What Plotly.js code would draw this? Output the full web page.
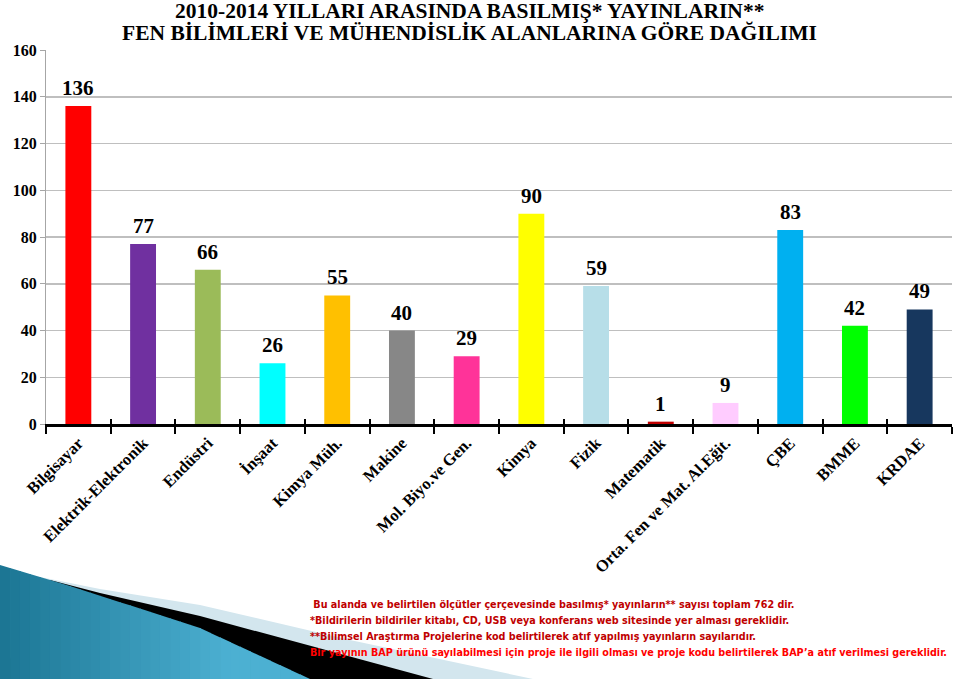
<!DOCTYPE html>
<html>
<head>
<meta charset="utf-8">
<script src="https://cdn.plot.ly/plotly-3.0.1.min.js"></script>
<style>html,body{margin:0;padding:0;background:#fff;}#chart{width:960px;height:679px;}</style>
</head>
<body>
<div id="chart"></div>
<script>
const categories = ["Bilgisayar","Elektrik-Elektronik","Endüstri","İnşaat","Kimya Müh.","Makine","Mol. Biyo.ve Gen.","Kimya","Fizik","Matematik","Orta. Fen ve Mat. Al.Eğit.","ÇBE","BMME","KRDAE"];
const values = [136,77,66,26,55,40,29,90,59,1,9,83,42,49];
const barColors = ["#FF0000","#7030A0","#9BBB59","#00FFFF","#FFC000","#878787","#FF3399","#FFFF00","#B7DEE8","#C00000","#FFCCFF","#00B0F0","#00FF00","#17375E"];
const yTicks = [0,20,40,60,80,100,120,140,160];
const titleLines = ["2010-2014 YILLARI ARASINDA BASILMIŞ* YAYINLARIN**","FEN BİLİMLERİ VE MÜHENDİSLİK ALANLARINA GÖRE DAĞILIMI"];
const notes = [" Bu alanda ve belirtilen ölçütler çerçevesinde basılmış* yayınların** sayısı toplam 762 dir.",
"*Bildirilerin bildiriler kitabı, CD, USB veya konferans web sitesinde yer alması gereklidir.",
"**Bilimsel Araştırma Projelerine kod belirtilerek atıf yapılmış yayınların sayılarıdır.",
"Bir yayının BAP ürünü sayılabilmesi için proje ile ilgili olması ve proje kodu belirtilerek BAP’a atıf verilmesi gereklidir."];
const noteColors = ["#C00000","#C00000","#C00000","#FF0000"];

const W = 960, H = 679, L = 46, R = 8, T = 50, B = 255;
const PW = W - L - R, PH = H - T - B;
const px = x => (x - L) / PW;
const py = y => (H - B - y) / PH;
const path = pts => 'M' + pts.map(p => px(p[0]).toFixed(4) + ',' + py(p[1]).toFixed(4)).join(' L') + ' Z';

const serif = "Liberation Serif";
const narrow = "DejaVu Sans Condensed, DejaVu Sans, sans-serif";

const traces = [
  {type:'bar', x:categories, y:values, marker:{color:barColors}, hoverinfo:'x+y', showlegend:false},
  {type:'bar', x:categories, y:values.map(()=>null), xaxis:'x2', hoverinfo:'skip', showlegend:false}
];

const annotations = [];
categories.forEach((c,i)=>{
  annotations.push({x:c, y:values[i], xref:'x', yref:'y', text:String(values[i]), showarrow:false,
    yanchor:'bottom', yshift:4, font:{family:serif, size:21, color:'#000', weight:'bold'}});
});
titleLines.forEach((t,i)=>{
  annotations.push({x:px(469), y:py(11 + i*22), xref:'paper', yref:'paper', text:t, showarrow:false,
    xanchor:'center', yanchor:'middle', font:{family:serif, size:21.5, color:'#000', weight:'bold'}});
});
notes.forEach((t,i)=>{
  annotations.push({x:px(308), y:py(604 + i*16.3), xref:'paper', yref:'paper', text:t, showarrow:false,
    xanchor:'left', yanchor:'middle', font:{family:narrow, size:10.7, color:noteColors[i], weight:'bold'}});
});

// decorative corner (PowerPoint theme), teal band made of graded strips
const shapes = [
  {type:'path', xref:'paper', yref:'paper', layer:'below', line:{width:0}, fillcolor:'#D3E6EE',
   path: path([[30,575],[100,589],[200,605],[350,640],[533,679],[0,679]])},
  {type:'path', xref:'paper', yref:'paper', layer:'below', line:{width:0}, fillcolor:'#000000',
   path: path([[50,580],[100,593],[200,616],[433,679],[0,679]])}
];
const topPts = [[0,565],[67,585],[200,628],[310,679]];
const topY = x => {
  for (let k=0;k<topPts.length-1;k++){
    const a=topPts[k], b=topPts[k+1];
    if (x<=b[0]) return a[1] + (b[1]-a[1])*(x-a[0])/(b[0]-a[0]);
  }
  return 679;
};
const c0=[27,117,147], c1=[76,176,210];
const step = 10;
for (let x=0; x<310; x+=step){
  const x2 = Math.min(x+step+0.8, 310);
  const t = Math.min(1, (x+step/2)/230);
  const col = 'rgb(' + c0.map((v,j)=>Math.round(v+(c1[j]-v)*t)).join(',') + ')';
  shapes.push({type:'path', xref:'paper', yref:'paper', layer:'below', line:{width:0}, fillcolor:col,
    path: path([[x,topY(x)],[x2,topY(x2)],[x2,679],[x,679]])});
}

const layout = {
  width: W, height: H,
  margin: {l:L, r:R, t:T, b:B, pad:0},
  paper_bgcolor:'#ffffff', plot_bgcolor:'#ffffff',
  bargap: 0.6,
  xaxis: {type:'category', categoryorder:'array', categoryarray:categories, range:[-0.5, categories.length-0.5],
    showline:true, linecolor:'#000', linewidth:3, ticks:'outside', ticklen:7, tickwidth:2, tickcolor:'#000',
    tickson:'boundaries', tickangle:-45, showgrid:false, zeroline:false,
    tickfont:{family:serif, size:16.5, color:'#000', weight:'bold'}},
  xaxis2: {type:'category', categoryorder:'array', categoryarray:categories, range:[-0.5, categories.length-0.5],
    overlaying:'x', anchor:'y', side:'bottom', ticks:'inside', ticklen:5, tickwidth:2, tickcolor:'#000',
    tickson:'boundaries', showticklabels:false, showgrid:false, showline:false, zeroline:false},
  yaxis: {range:[0,160], tickvals:yTicks, ticktext:yTicks.map(String), showline:true, linecolor:'#A6A6A6', linewidth:1,
    ticks:'outside', ticklen:5, tickcolor:'#A6A6A6', showgrid:true, gridcolor:'#BFBFBF', gridwidth:1.5, zeroline:false,
    tickfont:{family:serif, size:16, color:'#000', weight:'bold'}},
  annotations: annotations,
  shapes: shapes,
  showlegend:false
};

Plotly.newPlot('chart', traces, layout, {displayModeBar:false, staticPlot:true});
</script>
</body>
</html>
